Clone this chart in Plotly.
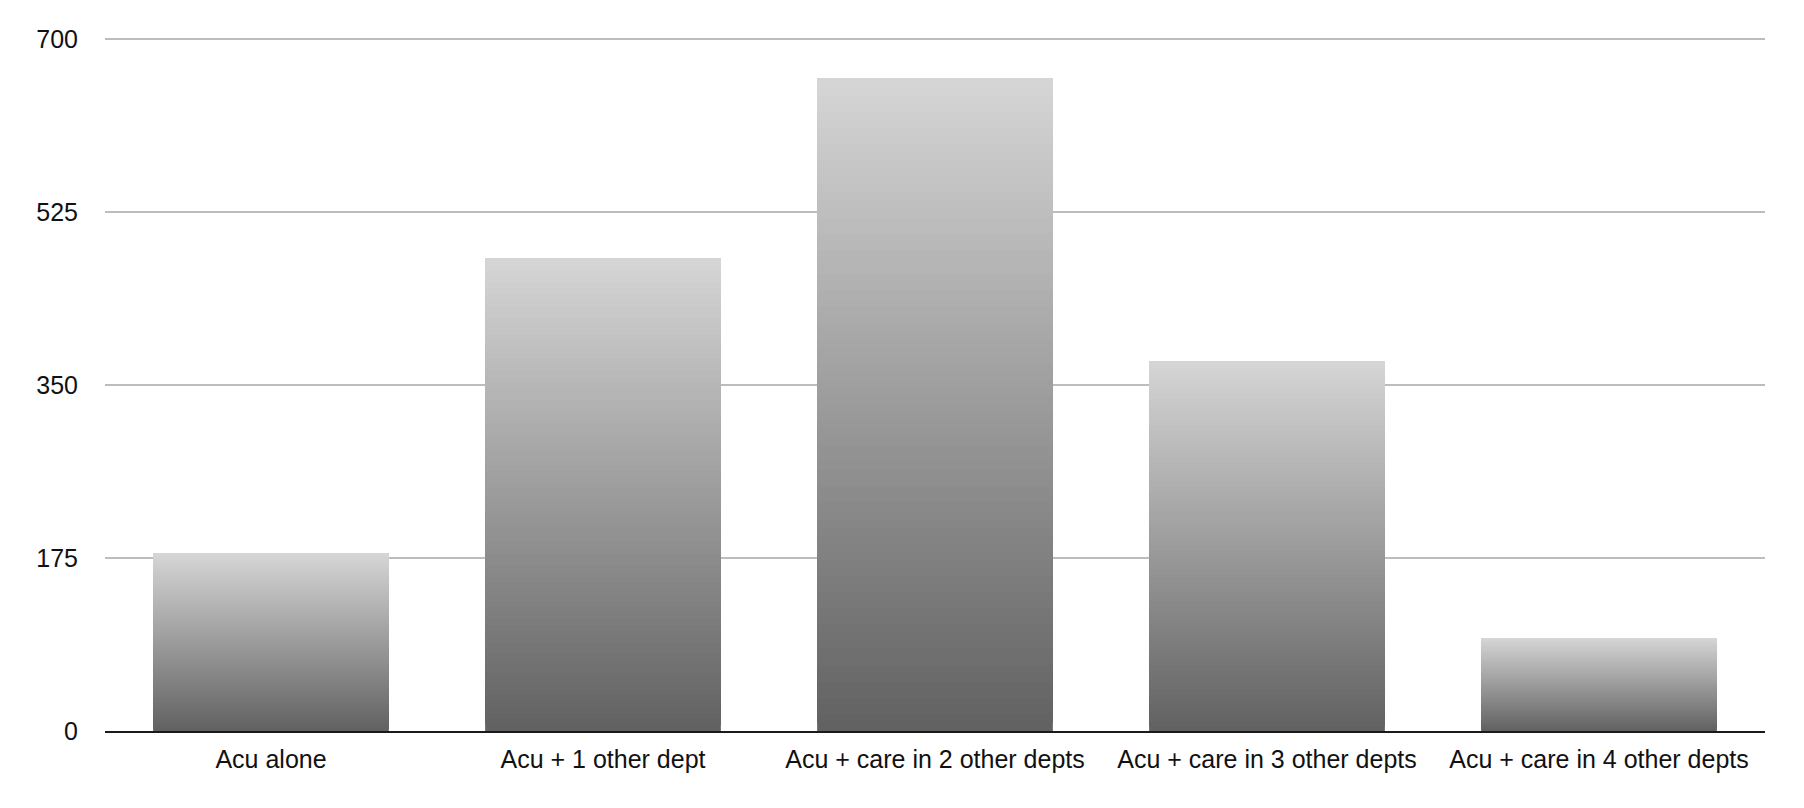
import plotly.graph_objects as go

categories = ["Acu alone", "Acu + 1 other dept", "Acu + care in 2 other depts",
              "Acu + care in 3 other depts", "Acu + care in 4 other depts"]
values = [180, 478, 660, 374, 94]
y_ticks = [0, 175, 350, 525, 700]

# vertical gradient per bar: dark at bottom, light at top
N = 80
dark = 98
light = 213

fig = go.Figure()
for i in range(N):
    frac = i / (N - 1)
    g = round(dark + (light - dark) * frac)
    col = f"rgb({g},{g},{g})"
    bases = [v * i / N for v in values]
    heights = [v - b for v, b in zip(values, bases)]
    fig.add_trace(go.Bar(
        x=categories, y=heights, base=bases,
        marker=dict(color=col, line=dict(width=0)),
        showlegend=False, hoverinfo="skip",
    ))

fig.update_layout(
    width=1796, height=800,
    barmode="overlay", bargap=0.29,
    paper_bgcolor="white", plot_bgcolor="white",
    margin=dict(l=97, r=39, t=26, b=77),
    font=dict(family="Liberation Sans, Arial, Helvetica, sans-serif", size=25, color="#111111"),
    xaxis=dict(
        showgrid=False, showline=True, linecolor="#1a1a1a", linewidth=2,
        ticks="", ticklabelstandoff=5, tickfont=dict(size=25),
    ),
    yaxis=dict(
        range=[0, 705], tickvals=y_ticks, ticktext=[str(t) for t in y_ticks],
        showgrid=True, gridcolor="#bdbdbd", gridwidth=2,
        zeroline=False, showline=False, ticks="",
        ticklabelstandoff=26, tickfont=dict(size=25),
    ),
)

fig.write_html("out.html")
